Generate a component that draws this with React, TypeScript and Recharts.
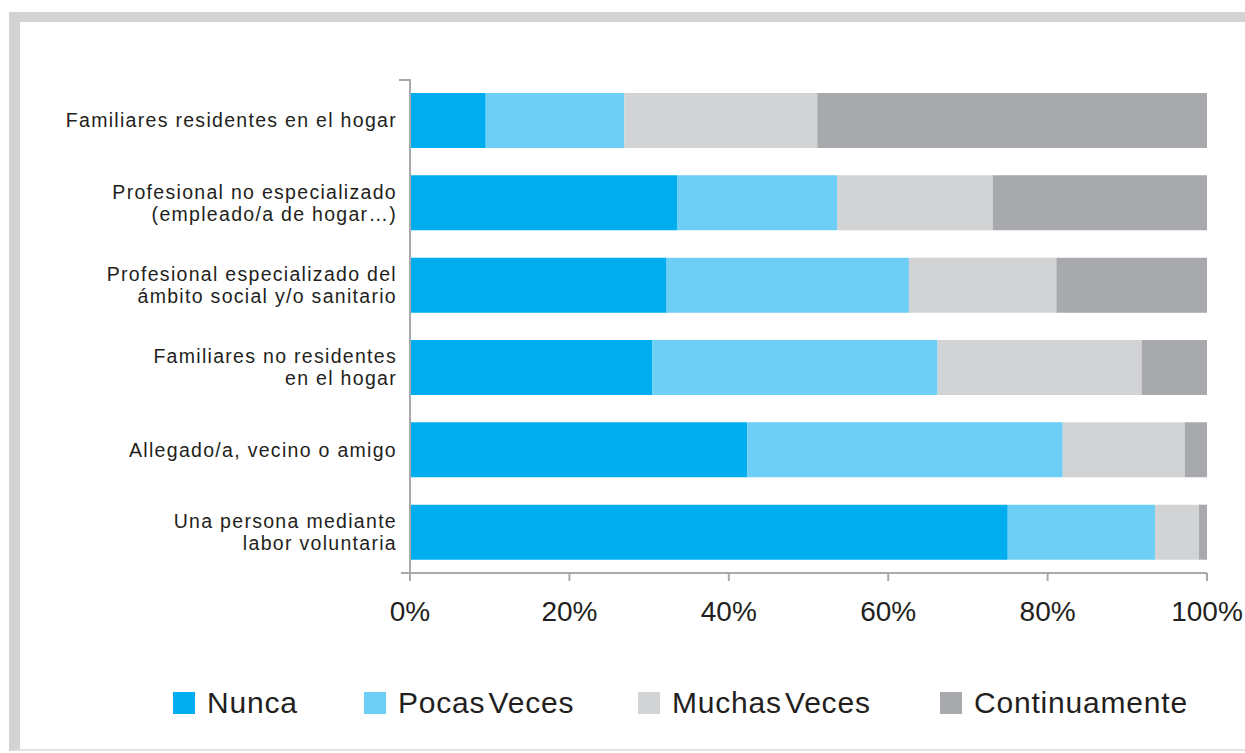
import { BarChart, Bar, XAxis, YAxis } from 'recharts';

const categories = [
  'Familiares residentes en el hogar',
  'Profesional no especializado\n(empleado/a de hogar…)',
  'Profesional especializado del\námbito social y/o sanitario',
  'Familiares no residentes\nen el hogar',
  'Allegado/a, vecino o amigo',
  'Una persona mediante\nlabor voluntaria',
];

const nunca = [9.5, 33.5, 32.2, 30.4, 42.3, 75.0];
const pocasVeces = [17.4, 20.1, 30.4, 35.8, 39.6, 18.5];
const muchasVeces = [24.2, 19.5, 18.5, 25.6, 15.3, 5.5];
const continuamente = [48.9, 26.9, 18.9, 8.2, 2.8, 1.0];

const xTicks = [0, 20, 40, 60, 80, 100];

const series = [
  { key: 'nunca', label: 'Nunca', color: '#00aeef' },
  { key: 'pocas', label: 'Pocas Veces', color: '#6dcff6' },
  { key: 'muchas', label: 'Muchas Veces', color: '#d1d3d4' },
  { key: 'cont', label: 'Continuamente', color: '#a7a9ac' },
];

const data = categories.map((name, i) => ({
  name,
  nunca: nunca[i],
  pocas: pocasVeces[i],
  muchas: muchasVeces[i],
  cont: continuamente[i],
}));

const FONT = '"Liberation Sans", Arial, sans-serif';
const AXIS = '#a7a9ac';
const TEXT = '#231f20';

const CategoryTick = (props: any) => {
  const { x, y, payload } = props;
  const lines: string[] = String(payload.value).split('\n');
  const lh = 22;
  const start = -((lines.length - 1) * lh) / 2;
  return (
    <text x={x} y={y} textAnchor="end" fontSize={19.5} letterSpacing={1.3} fill={TEXT} fontFamily={FONT}>
      {lines.map((l, i) => (
        <tspan key={i} x={x} dy={i === 0 ? start + 7 : lh}>
          {l}
        </tspan>
      ))}
    </text>
  );
};

const legendLeft = [173, 364, 638, 940];

export default function App() {
  return (
    <div style={{ position: 'absolute', left: 0, top: 0, width: 1245, height: 753, background: '#fff', fontFamily: FONT }}>
      <div
        style={{
          position: 'absolute',
          left: 9,
          top: 12,
          width: 1236,
          height: 739,
          boxSizing: 'border-box',
          borderTop: '10px solid #d1d3d4',
          borderLeft: '11px solid #d1d3d4',
          borderBottom: '2px solid #e2e3e4',
        }}
      />
      <div style={{ position: 'absolute', left: 0, top: 0 }}>
        <BarChart
          width={1245}
          height={753}
          data={data}
          layout="vertical"
          margin={{ top: 79, right: 38, left: 0, bottom: 130 }}
          barCategoryGap={0}
        >
          <XAxis
            type="number"
            domain={[0, 100]}
            ticks={xTicks}
            tickFormatter={(v: number) => `${v}%`}
            axisLine={{ stroke: AXIS, strokeWidth: 2 }}
            tickLine={{ stroke: AXIS, strokeWidth: 2 }}
            tickSize={8}
            tickMargin={20}
            height={50}
            tick={{ fontSize: 28, fill: TEXT, fontFamily: FONT }}
            interval={0}
          />
          <YAxis
            type="category"
            dataKey="name"
            width={410}
            axisLine={{ stroke: AXIS, strokeWidth: 2 }}
            tickLine={false}
            tickSize={0}
            tickMargin={13}
            tick={<CategoryTick />}
            interval={0}
          />
          {series.map((s) => (
            <Bar key={s.key} dataKey={s.key} stackId="a" fill={s.color} barSize={55} isAnimationActive={false} />
          ))}
        </BarChart>
      </div>
      {/* small axis end caps */}
      <svg style={{ position: 'absolute', left: 0, top: 0 }} width={1245} height={753}>
        <line x1={399} y1={80} x2={411} y2={80} stroke={AXIS} strokeWidth={2} />
        <line x1={401} y1={573} x2={410} y2={573} stroke={AXIS} strokeWidth={2} />
      </svg>
      {series.map((s, i) => (
        <div
          key={s.key}
          style={{ position: 'absolute', left: legendLeft[i], top: 685, display: 'flex', alignItems: 'center', height: 36 }}
        >
          <div style={{ width: 22, height: 22, background: s.color, marginRight: 12 }} />
          <span style={{ fontSize: 30, letterSpacing: 0.8, wordSpacing: -6, color: TEXT }}>{s.label}</span>
        </div>
      ))}
    </div>
  );
}
